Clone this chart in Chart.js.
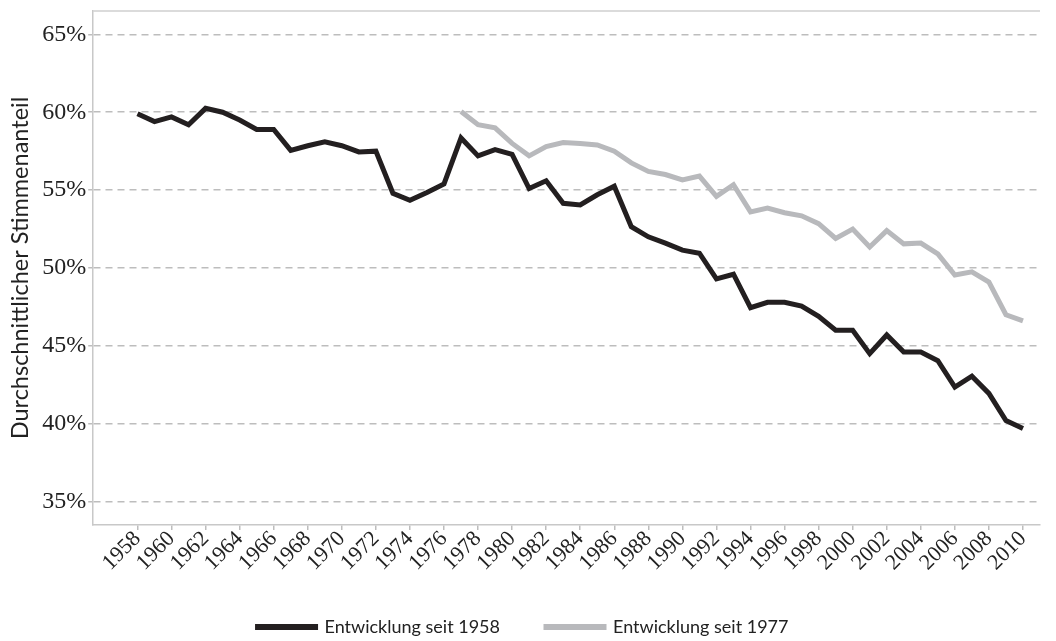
<!DOCTYPE html>
<html>
<head>
<meta charset="utf-8">
<script src="https://cdn.jsdelivr.net/npm/chart.js@4.4.1/dist/chart.umd.min.js"></script>
<style>
  html, body { margin: 0; padding: 0; background: #fff; }
  #wrap { width: 1056px; height: 641px; }
</style>
</head>
<body>
<div id="wrap"><canvas id="voteChart" width="1056" height="641"></canvas></div>
<script>
// Jahre und Werte
const years1958 = [1958, 1959, 1960, 1961, 1962, 1963, 1964, 1965, 1966, 1967,
    1968, 1969, 1970, 1971, 1972, 1973, 1974, 1975, 1976, 1977,
    1978, 1979, 1980, 1981, 1982, 1983, 1984, 1985, 1986, 1987,
    1988, 1989, 1990, 1991, 1992, 1993, 1994, 1995, 1996, 1997,
    1998, 1999, 2000, 2001, 2002, 2003, 2004, 2005, 2006, 2007,
    2008, 2009, 2010];
const share1958 = [59.9, 59.4, 59.7, 59.2, 60.25, 60.0, 59.5, 58.9, 58.9, 57.55,
    57.85, 58.1, 57.85, 57.45, 57.5, 54.8, 54.35, 54.85, 55.4, 58.35,
    57.2, 57.6, 57.3, 55.1, 55.6, 54.15, 54.05, 54.7, 55.25, 52.65,
    52.0, 51.6, 51.15, 50.95, 49.3, 49.6, 47.45, 47.8, 47.8, 47.55,
    46.9, 46.0, 46.0, 44.5, 45.7, 44.6, 44.6, 44.05, 42.35, 43.05,
    41.95, 40.2, 39.7];

const years1977 = [1977, 1978, 1979, 1980, 1981, 1982, 1983, 1984, 1985, 1986,
    1987, 1988, 1989, 1990, 1991, 1992, 1993, 1994, 1995, 1996,
    1997, 1998, 1999, 2000, 2001, 2002, 2003, 2004, 2005, 2006,
    2007, 2008, 2009, 2010];
const share1977 = [60.05, 59.2, 59.0, 58.0, 57.2, 57.8, 58.05, 58.0, 57.9, 57.5,
    56.75, 56.2, 56.0, 55.65, 55.9, 54.6, 55.35, 53.6, 53.85, 53.55,
    53.35, 52.85, 51.9, 52.5, 51.35, 52.4, 51.55, 51.6, 50.9, 49.55,
    49.75, 49.1, 47.0, 46.6];

const xTickYears = [1958, 1960, 1962, 1964, 1966, 1968, 1970, 1972, 1974, 1976,
    1978, 1980, 1982, 1984, 1986, 1988, 1990, 1992, 1994, 1996,
    1998, 2000, 2002, 2004, 2006, 2008, 2010];
const yTickValues = [35, 40, 45, 50, 55, 60, 65];

const toPoints = (xs, ys) => xs.map((x, i) => ({ x: x, y: ys[i] }));

// oberer Rahmen
const topBorder = {
    id: 'topBorder',
    afterDraw(chart) {
        const a = chart.chartArea, c = chart.ctx;
        c.save();
        c.strokeStyle = '#cfcfcf';
        c.lineWidth = 1.5;
        c.beginPath();
        c.moveTo(a.left, a.top);
        c.lineTo(a.right, a.top);
        c.stroke();
        c.restore();
    }
};

new Chart(document.getElementById('voteChart'), {
    type: 'line',
    data: {
        datasets: [{
            label: 'Entwicklung seit 1958',
            data: toPoints(years1958, share1958),
            borderColor: '#231f20',
            backgroundColor: '#231f20',
            borderWidth: 5,
            pointRadius: 0,
            tension: 0
        }, {
            label: 'Entwicklung seit 1977',
            data: toPoints(years1977, share1977),
            borderColor: '#b8b9bc',
            backgroundColor: '#b8b9bc',
            borderWidth: 5,
            pointRadius: 0,
            tension: 0
        }]
    },
    options: {
        responsive: false,
        animation: false,
        layout: { padding: { top: 8, right: 16, left: 6, bottom: -5 } },
        plugins: {
            legend: {
                position: 'bottom',
                labels: {
                    boxWidth: 58,
                    boxHeight: 1,
                    padding: 46,
                    color: '#222',
                    font: { family: 'Lato', size: 18 }
                }
            },
            tooltip: { enabled: false }
        },
        scales: {
            x: {
                type: 'linear',
                min: 1955.4,
                max: 2011,
                afterBuildTicks: (ax) => { ax.ticks = xTickYears.map(v => ({ value: v })); },
                grid: {
                    drawOnChartArea: false,
                    drawTicks: true,
                    tickLength: 5,
                    color: '#bdbdbd',
                    lineWidth: 1.5
                },
                border: { color: '#c8c8c8', width: 1.5 },
                ticks: {
                    autoSkip: false,
                    minRotation: 45,
                    maxRotation: 45,
                    padding: 0,
                    color: '#222',
                    font: { family: 'Liberation Serif', size: 22, lineHeight: 0.7 },
                    callback: (v) => String(v)
                }
            },
            y: {
                min: 33.5,
                max: 66.5,
                afterBuildTicks: (ax) => { ax.ticks = yTickValues.map(v => ({ value: v })); },
                grid: {
                    color: '#bdbdbd',
                    lineWidth: 1.5,
                    tickBorderDash: [],
                    tickLength: 5
                },
                border: { color: '#c8c8c8', width: 1.5, dash: [7, 5] },
                title: {
                    display: true,
                    text: 'Durchschnittlicher Stimmenanteil',
                    color: '#222',
                    font: { family: 'Lato', size: 23.5 },
                    padding: { top: 0, bottom: 6 }
                },
                ticks: {
                    padding: 2,
                    color: '#222',
                    font: { family: 'Liberation Serif', size: 24, lineHeight: 0.75 },
                    callback: (v) => v + '%'
                }
            }
        }
    },
    plugins: [topBorder]
});
</script>
</body>
</html>
